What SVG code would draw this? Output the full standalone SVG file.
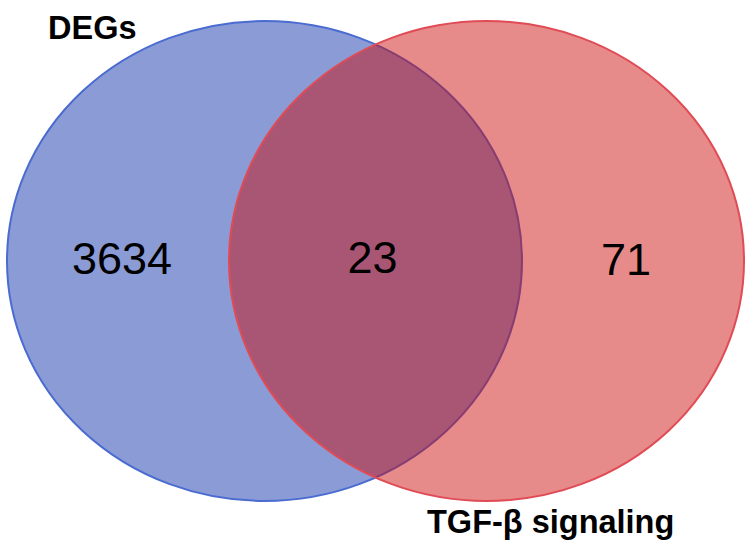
<svg xmlns="http://www.w3.org/2000/svg" width="755" height="554" viewBox="0 0 755 554">
<style>
.lbl{font-family:"Liberation Sans",Arial,sans-serif;font-weight:bold;font-size:32.5px;fill:#000}
.num{font-family:"Liberation Sans",Arial,sans-serif;font-size:45px;fill:#000;text-anchor:middle}
</style>
<rect width="755" height="554" fill="#fff"/>
<g id="set-degs">
<ellipse cx="264.5" cy="261" rx="257.5" ry="240" fill="rgb(11,46,169)" fill-opacity="0.48" stroke="#4a6bd0" stroke-width="2"/>
</g>
<g id="set-tgf">
<ellipse cx="486.5" cy="261" rx="257.5" ry="240" fill="rgb(203,11,11)" fill-opacity="0.48" stroke="#e04b55" stroke-width="2"/>
</g>
<g id="connectors"></g>
<g id="labels">
<text class="lbl" x="48" y="39" font-size="33">DEGs</text>
<text class="lbl" x="427" y="533">TGF-β signaling</text>
<text class="num" x="122" y="274">3634</text>
<text class="num" x="372.5" y="273">23</text>
<text class="num" x="626" y="275">71</text>
</g>
</svg>
